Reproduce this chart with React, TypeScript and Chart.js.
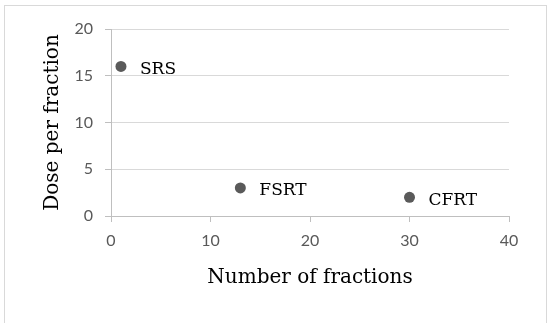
import React, { useEffect, useRef } from "react";
import { Chart, registerables } from "chart.js";

Chart.register(...registerables);

const pointLabels = ["SRS", "FSRT", "CFRT"];
const fractions = [1, 13, 30];
const dosePerFraction = [16, 3, 2];
const xTitle = "Number of fractions";
const yTitle = "Dose per fraction";

const labelPlugin = {
  id: "pointLabels",
  afterDatasetsDraw(chart: any) {
    const { ctx, scales } = chart;
    ctx.save();
    ctx.font = "17px 'DejaVu Serif'";
    ctx.fillStyle = "#000000";
    ctx.textAlign = "left";
    ctx.textBaseline = "middle";
    pointLabels.forEach((t, i) => {
      const x = scales.x.getPixelForValue(fractions[i]);
      const y = scales.y.getPixelForValue(dosePerFraction[i]);
      ctx.fillText(t, x + 19, y + 3);
    });
    ctx.restore();
  },
};

export default function App() {
  const ref = useRef<HTMLCanvasElement | null>(null);
  useEffect(() => {
    if (!ref.current) return;
    const chart = new Chart(ref.current, {
      type: "scatter",
      data: {
        datasets: [
          {
            data: fractions.map((x, i) => ({ x, y: dosePerFraction[i] })),
            backgroundColor: "#5a5a5a",
            borderColor: "#5a5a5a",
            borderWidth: 0,
            pointRadius: 5.5,
          },
        ],
      },
      options: {
        animation: false,
        responsive: false,
        maintainAspectRatio: false,
        layout: { padding: { left: 0, right: 41, top: 29, bottom: 30 } },
        plugins: { legend: { display: false }, tooltip: { enabled: false } },
        scales: {
          x: {
            type: "linear",
            min: 0,
            max: 40,
            ticks: {
              stepSize: 10,
              color: "#595959",
              font: { family: "Lato", size: 16 },
              padding: 9,
            },
            grid: {
              drawOnChartArea: false,
              drawTicks: true,
              tickLength: 6,
              tickColor: "#bfbfbf",
              color: "#bfbfbf",
            },
            border: { color: "#bfbfbf", width: 1 },
            title: {
              display: true,
              text: xTitle,
              color: "#000000",
              font: { family: "DejaVu Serif", size: 20 },
              padding: { top: 0, bottom: 10 },
            },
            afterFit(scale: any) {
              scale.height = 84;
            },
          },
          y: {
            type: "linear",
            min: 0,
            max: 20,
            ticks: {
              stepSize: 5,
              color: "#595959",
              font: { family: "Lato", size: 16 },
              padding: 12,
            },
            grid: {
              color: "#d9d9d9",
              drawTicks: true,
              tickLength: 6,
              tickColor: "#bfbfbf",
            },
            border: { color: "#bfbfbf", width: 1 },
            title: {
              display: true,
              text: yTitle,
              color: "#000000",
              font: { family: "DejaVu Serif", size: 20 },
              padding: { top: 41, bottom: 0 },
            },
            afterFit(scale: any) {
              scale.width = 111;
            },
          },
        },
      },
      plugins: [labelPlugin],
    });
    return () => chart.destroy();
  }, []);
  return (
    <div style={{ position: "absolute", left: 0, top: 0, width: 550, height: 330, background: "#fff" }}>
      <div
        style={{
          position: "absolute",
          left: 4,
          top: 5,
          width: 541,
          height: 317,
          borderTop: "1px solid #d9d9d9",
          borderLeft: "1px solid #d9d9d9",
          borderRight: "1px solid #d9d9d9",
        }}
      />
      <canvas ref={ref} width={550} height={330} style={{ position: "absolute", left: 0, top: 0 }} />
    </div>
  );
}
